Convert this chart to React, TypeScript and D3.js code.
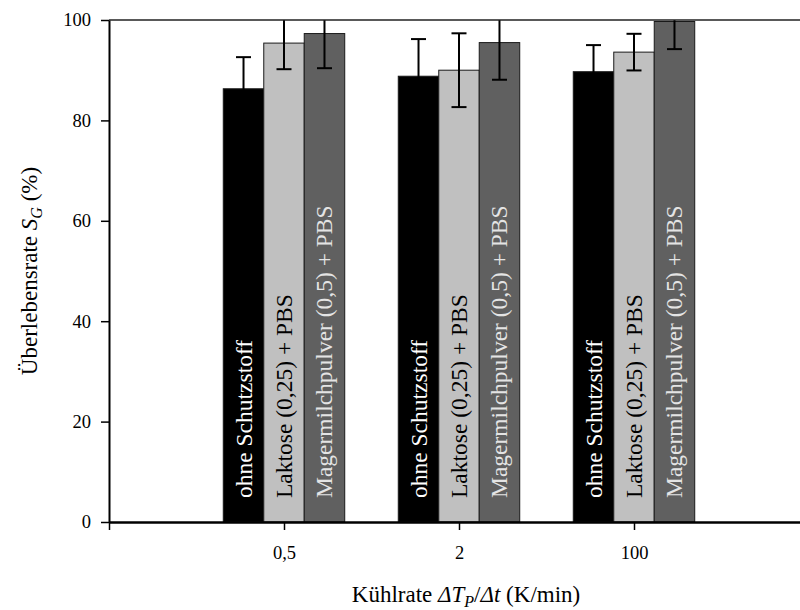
import { useRef, useEffect } from "react";
import * as d3 from "d3";

// Cooling rates (x categories)
const RATES = ["0,5", "2", "100"];
// Protective agents (series)
const AGENTS = ["ohne Schutzstoff", "Laktose (0,25) + PBS", "Magermilchpulver (0,5) + PBS"];
const AGENT_FILL = ["#000000", "#c0c0c0", "#606060"];
const AGENT_TEXT = ["#ffffff", "#000000", "#e4e4e4"];

// Survival rate S_G (%) per agent, in order of RATES
const OHNE = [86.3, 88.8, 89.7];
const LAKTOSE = [95.4, 90.0, 93.6];
const MAGERMILCH = [97.3, 95.5, 99.7];
// Standard deviations
const OHNE_SD = [6.3, 7.4, 5.3];
const LAKTOSE_SD = [5.2, 7.35, 3.65];
const MAGERMILCH_SD = [6.9, 7.4, 5.5];

const Y_TICKS = [0, 20, 40, 60, 80, 100];

const FONT = "Liberation Serif, Times New Roman, serif";

export default function App() {
  const svgRef = useRef<SVGSVGElement>(null);

  useEffect(() => {
    if (!svgRef.current) return;
    const width = 800;
    const height = 610;
    const margin = { top: 20, left: 109, bottom: 88 };
    const plotRight = 809; // frame runs past the page edge

    const svg = d3.select(svgRef.current).attr("width", width).attr("height", height);
    svg.selectAll("*").remove();

    const values = [OHNE, LAKTOSE, MAGERMILCH];
    const sds = [OHNE_SD, LAKTOSE_SD, MAGERMILCH_SD];

    const x = d3
      .scaleLinear()
      .domain([0, RATES.length + 1])
      .range([margin.left, plotRight]);
    const y = d3
      .scaleLinear()
      .domain([0, 100])
      .range([height - margin.bottom, margin.top]);

    const groupW = (x(1) - x(0)) * 0.694;
    const x1 = d3
      .scaleBand<number>()
      .domain(d3.range(AGENTS.length))
      .range([-groupW / 2, groupW / 2])
      .padding(0);

    svg
      .append("clipPath")
      .attr("id", "plot-clip")
      .append("rect")
      .attr("x", margin.left)
      .attr("y", y(100))
      .attr("width", plotRight - margin.left)
      .attr("height", y(0) - y(100));

    const g = svg.append("g").attr("clip-path", "url(#plot-clip)");

    // Bars
    RATES.forEach((rate, ri) => {
      const cx = x(ri + 1);
      AGENTS.forEach((agent, ai) => {
        const v = values[ai][ri];
        const bx = cx + (x1(ai) || 0);
        g.append("rect")
          .attr("x", bx)
          .attr("y", y(v))
          .attr("width", x1.bandwidth())
          .attr("height", y(0) - y(v))
          .attr("fill", AGENT_FILL[ai])
          .attr("stroke", "#1a1a1a")
          .attr("stroke-width", 1);
      });
    });

    // Labels inside bars
    RATES.forEach((rate, ri) => {
      const cx = x(ri + 1);
      AGENTS.forEach((agent, ai) => {
        const mx = cx + (x1(ai) || 0) + x1.bandwidth() / 2 + 8;
        const my = y(0) - 24;
        svg
          .append("text")
          .attr("transform", `translate(${mx},${my}) rotate(-90)`)
          .style("font-family", FONT)
          .style("font-size", "23.5px")
          .attr("fill", AGENT_TEXT[ai])
          .text(agent);
      });
    });

    // Error bars
    RATES.forEach((rate, ri) => {
      const cx = x(ri + 1);
      AGENTS.forEach((agent, ai) => {
        const v = values[ai][ri];
        const sd = sds[ai][ri];
        const ex = cx + (x1(ai) || 0) + x1.bandwidth() / 2;
        g.append("line")
          .attr("x1", ex)
          .attr("x2", ex)
          .attr("y1", y(v - sd))
          .attr("y2", y(v + sd))
          .attr("stroke", "#000")
          .attr("stroke-width", 2);
        [v - sd, v + sd].forEach((e) => {
          g.append("line")
            .attr("x1", ex - 7.5)
            .attr("x2", ex + 7.5)
            .attr("y1", y(e))
            .attr("y2", y(e))
            .attr("stroke", "#000")
            .attr("stroke-width", 2);
        });
      });
    });

    // Top frame
    svg
      .append("line")
      .attr("x1", margin.left)
      .attr("x2", plotRight)
      .attr("y1", y(100))
      .attr("y2", y(100))
      .attr("stroke", "#222")
      .attr("stroke-width", 1.5);

    // Y axis
    const yAxis = svg
      .append("g")
      .attr("transform", `translate(${margin.left},0)`)
      .call(d3.axisLeft(y).tickValues(Y_TICKS).tickSize(8).tickPadding(10).tickSizeOuter(0));
    yAxis.select(".domain").attr("stroke", "#000").attr("stroke-width", 2);
    yAxis.selectAll(".tick line").attr("stroke", "#000").attr("stroke-width", 1.5);
    yAxis
      .selectAll(".tick text")
      .style("font-family", FONT)
      .style("font-size", "18.5px")
      .attr("fill", "#000");

    // X axis
    const xAxis = svg
      .append("g")
      .attr("transform", `translate(0,${y(0)})`)
      .call(
        d3
          .axisBottom(x)
          .tickValues(d3.range(0, RATES.length + 1))
          .tickFormat((d) => (Number(d) >= 1 ? RATES[Number(d) - 1] : ""))
          .tickSize(8)
          .tickPadding(16)
          .tickSizeOuter(0)
      );
    xAxis.select(".domain").attr("stroke", "#000").attr("stroke-width", 2.5);
    xAxis.selectAll(".tick line").attr("stroke", "#000").attr("stroke-width", 1.5);
    xAxis
      .selectAll(".tick text")
      .style("font-family", FONT)
      .style("font-size", "18.5px")
      .attr("fill", "#000");

    // Axis titles
    const xt = svg
      .append("text")
      .attr("x", 466)
      .attr("y", 602)
      .attr("text-anchor", "middle")
      .style("font-family", FONT)
      .style("font-size", "23px")
      .attr("fill", "#000");
    xt.append("tspan").text("Kühlrate ");
    xt.append("tspan").attr("font-style", "italic").text("ΔT");
    xt.append("tspan").attr("font-style", "italic").style("font-size", "16px").attr("dy", 5).text("P");
    xt.append("tspan").attr("dy", -5).text("/");
    xt.append("tspan").attr("font-style", "italic").text("Δt");
    xt.append("tspan").text(" (K/min)");

    const cy = (y(0) + y(100)) / 2;
    const yt = svg
      .append("text")
      .attr("transform", `translate(37,${cy}) rotate(-90)`)
      .attr("text-anchor", "middle")
      .style("font-family", FONT)
      .style("font-size", "23px")
      .attr("fill", "#000");
    yt.append("tspan").text("Überlebensrate ");
    yt.append("tspan").attr("font-style", "italic").text("S");
    yt.append("tspan").attr("font-style", "italic").style("font-size", "16px").attr("dy", 5).text("G");
    yt.append("tspan").attr("dy", -5).text(" (%)");
  }, []);

  return (
    <svg
      ref={svgRef}
      style={{ position: "absolute", left: 0, top: 0, display: "block", background: "#fff" }}
    />
  );
}
